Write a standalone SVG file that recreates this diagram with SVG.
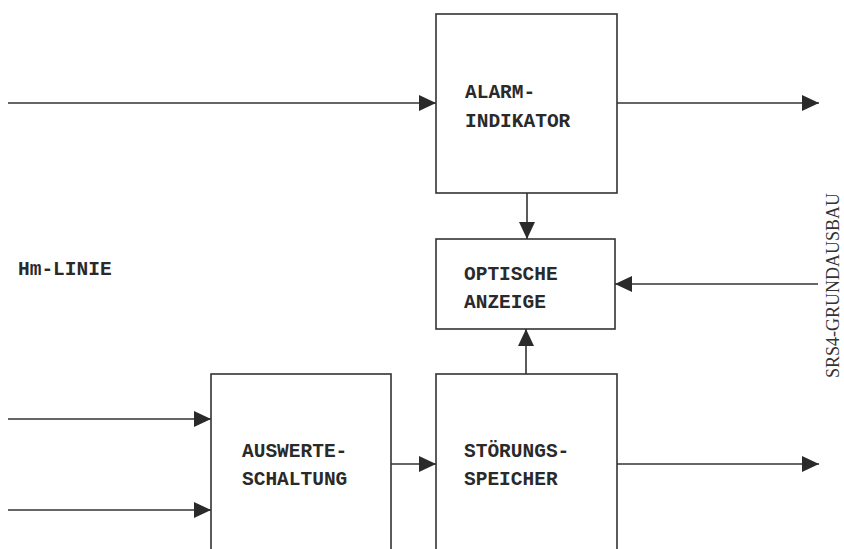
<svg xmlns="http://www.w3.org/2000/svg" width="844" height="549" viewBox="0 0 844 549">
<style>
.box{fill:#fff;stroke:#333;stroke-width:1.6}
.ln{fill:none;stroke:#333;stroke-width:1.6}
.t{font-family:"Liberation Mono","Courier New",monospace;font-weight:bold;font-size:19.5px;fill:#2a2a2a}
.s{font-family:"Liberation Serif","Times New Roman",serif;font-size:18px;fill:#333}
</style>
<defs>
<marker id="ah" markerUnits="userSpaceOnUse" markerWidth="18" markerHeight="18" refX="17" refY="9" orient="auto">
<path d="M0,1 L17,9 L0,17 Z" fill="#2a2a2a"/>
</marker>
</defs>
<rect width="844" height="549" fill="#fff"/>
<g id="connectors">
<line class="ln" x1="8" y1="103" x2="436" y2="103" marker-end="url(#ah)"/>
<line class="ln" x1="617" y1="103" x2="819" y2="103" marker-end="url(#ah)"/>
<line class="ln" x1="527" y1="193" x2="527" y2="239" marker-end="url(#ah)"/>
<line class="ln" x1="818" y1="284" x2="615" y2="284" marker-end="url(#ah)"/>
<line class="ln" x1="526" y1="374" x2="526" y2="329" marker-end="url(#ah)"/>
<line class="ln" x1="8" y1="419" x2="211" y2="419" marker-end="url(#ah)"/>
<line class="ln" x1="8" y1="510" x2="211" y2="510" marker-end="url(#ah)"/>
<line class="ln" x1="391" y1="464" x2="436" y2="464" marker-end="url(#ah)"/>
<line class="ln" x1="617" y1="464" x2="819" y2="464" marker-end="url(#ah)"/>
</g>
<g id="alarm">
<rect class="box" x="436" y="14" width="181" height="179"/>
<text class="t" x="465" y="98">ALARM-</text>
<text class="t" x="465" y="127">INDIKATOR</text>
</g>
<g id="optische">
<rect class="box" x="436" y="239" width="179" height="90"/>
<text class="t" x="464" y="280">OPTISCHE</text>
<text class="t" x="464" y="308">ANZEIGE</text>
</g>
<g id="auswerte">
<rect class="box" x="211" y="374" width="180" height="190"/>
<text class="t" x="242" y="457">AUSWERTE-</text>
<text class="t" x="242" y="485">SCHALTUNG</text>
</g>
<g id="stoerung">
<rect class="box" x="436" y="374" width="181" height="190"/>
<text class="t" x="464" y="457">STÖRUNGS-</text>
<text class="t" x="464" y="485">SPEICHER</text>
</g>
<g id="labels">
<text class="t" x="18" y="275">Hm-LINIE</text>
<text class="s" transform="translate(839,378) rotate(-90)">SRS4-GRUNDAUSBAU</text>
</g>
</svg>
